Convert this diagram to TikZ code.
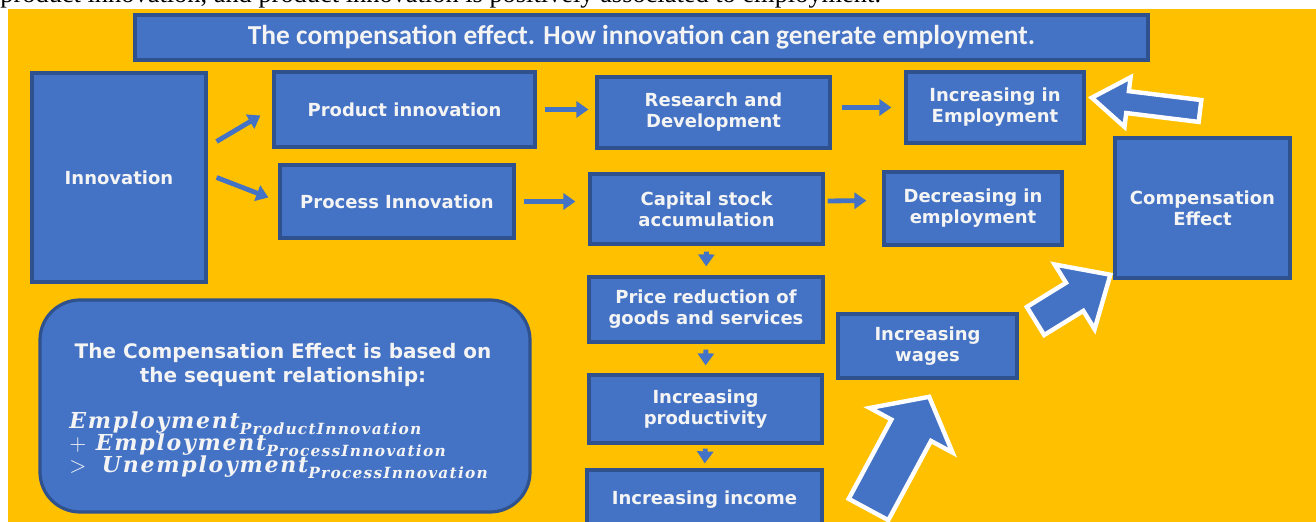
\documentclass[tikz,border=0pt]{standalone}
\usepackage{amsmath}
\usepackage{fontspec}
\setmainfont{Liberation Serif}
\setsansfont{DejaVu Sans}
\newfontfamily\titlefont{Carlito}
\newfontfamily\relfont{DejaVu Serif}[LetterSpace=8]
\usetikzlibrary{arrows.meta}
\definecolor{bg_orange}{HTML}{FFC000}
\definecolor{box_blue}{HTML}{4472C4}
\definecolor{box_edge}{HTML}{2F528F}
\definecolor{box_text}{HTML}{F4F4F4}

% block arrow: tail point, angle, length, half shaft, half head, head length
\newcommand{\blockarrow}[6]{%
  \begin{scope}[shift={#1}, rotate=#2]
    \filldraw[bigarrow] (0,-#4) -- (#3-#6,-#4) -- (#3-#6,-#5) -- (#3,0)
        -- (#3-#6,#5) -- (#3-#6,#4) -- (0,#4) -- cycle;
  \end{scope}}

\begin{document}
\begin{tikzpicture}[
    x=0.5pt, y=-0.5pt,
    box/.style={draw=box_edge, fill=box_blue, line width=1.6pt, text=box_text,
        font=\sffamily\bfseries\fontsize{9}{10.5}\selectfont, align=center, inner sep=0pt},
    wh/.style 2 args={minimum width=#1*0.5pt, minimum height=#2*0.5pt},
    flow/.style={-{Triangle[length=6pt, width=8pt]}, line width=2.4pt, box_blue},
    bigarrow/.style={fill=box_blue, draw=white, line width=2.2pt, line join=miter}
]

% ---------------------------------------------------------------
%  page strip and orange panel
% ---------------------------------------------------------------
\useasboundingbox (0,0) rectangle (1316,522);
\clip (0,0) rectangle (1316,522);
\fill[white] (0,0) rectangle (1316,522);
\node[anchor=base west, inner sep=0pt, font=\fontsize{13.2}{15}\selectfont] (pagetext) at (0,3)
    {product innovation, and product innovation is positively associated to employment.};
\fill[bg_orange] (8,9) rectangle (1316,522);

% title
\node[box, wh={1013}{45}, font=\titlefont\bfseries\fontsize{13.7}{15}\selectfont] (title) at (641.5,37.5)
    {The compensation effect. How innovation can generate employment.};

% boxes
\node[box, wh={174}{209}] (innov) at (119,177.5) {Innovation};
\node[box, wh={261}{75}] (prod) at (404.5,109.5) {Product innovation};
\node[box, wh={234}{73}] (proc) at (397,201.5) {Process Innovation};
\node[box, wh={233}{71}] (rnd) at (713.5,112.5) {Research and\\Development};
\node[box, wh={178}{71}] (incemp) at (995,107.5) {Increasing in\\Employment};
\node[box, wh={233}{70}] (capital) at (706.5,209) {Capital stock\\accumulation};
\node[box, wh={178}{73}] (decemp) at (973,208.5) {Decreasing in\\employment};
\node[box, wh={175}{140}] (comp) at (1202.5,208) {Compensation\\Effect};
\node[box, wh={234}{65}] (price) at (706,309.5) {Price reduction of\\goods and services};
\node[box, wh={233}{68}] (prodty) at (705.5,409) {Increasing\\productivity};
\node[box, wh={235}{60}] (income) at (704.5,500) {Increasing income};
\node[box, wh={179}{64}] (wages) at (927.5,346) {Increasing\\wages};

% relationship panel
\node[box, rounded corners=20pt, wh={490}{212}] (rule) at (285,406) {};
\node[text=box_text, align=center, font=\sffamily\bfseries\fontsize{10}{12}\selectfont] (ruletitle)
    at (283,365) {The Compensation Effect is based on\\the sequent relationship:};
\node[anchor=west, text=box_text, align=left, inner sep=0pt,
    font=\relfont\bfseries\itshape\fontsize{11}{10}\selectfont] (rulemath) at (69,445)
    {$\text{Employment}_{\text{ProductInnovation}}$\\[-1.5pt]
     $+\ \text{Employment}_{\text{ProcessInnovation}}$\\[-1.5pt]
     $>\ \text{Unemployment}_{\text{ProcessInnovation}}$};

% small arrows
\draw[flow] ([xshift=4.5pt, yshift=18pt]innov.east) -- ([xshift=-6pt, yshift=-3pt]prod.west);
\draw[flow] ([xshift=4.5pt]innov.east) -- ([xshift=-5pt, yshift=2pt]proc.west);
\draw[flow, shorten <=4pt, shorten >=3.5pt] (prod.east) -- (prod.east -| rnd.west);
\draw[flow, shorten <=4pt, shorten >=6.5pt] (proc.east) -- (proc.east -| capital.west);
\draw[flow, shorten <=5pt, shorten >=6.5pt] (incemp.west -| rnd.east) -- (incemp.west);
\draw[flow, shorten <=1.5pt, shorten >=8pt] ([yshift=4pt]capital.east) -- ([yshift=4pt]decemp.west);
\draw[flow, shorten <=3pt, shorten >=4.5pt] (capital.south) -- (price.north);
\draw[flow, shorten <=3pt, shorten >=4pt] (price.south) -- (prodty.north);
\draw[flow, shorten <=2pt, shorten >=2.5pt] (prodty.south) -- (income.north);

% block arrows
\blockarrow{(1200,111)}{173}{109}{11}{25}{36}
\blockarrow{(1035.5,321)}{31.7}{88}{16.5}{38}{42}
\blockarrow{(868.5,509.5)}{61.7}{128}{22.5}{47}{38}

\end{tikzpicture}
\end{document}
